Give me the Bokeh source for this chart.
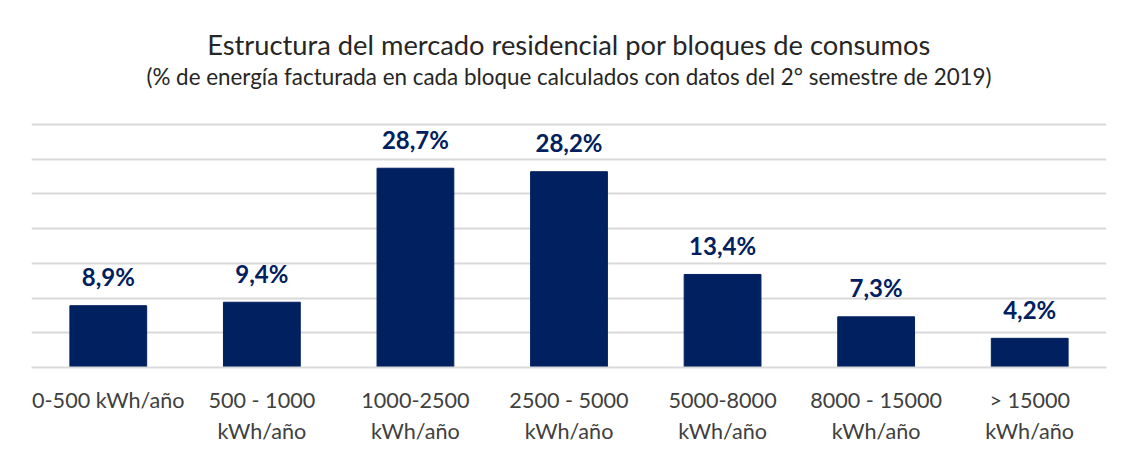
from bokeh.plotting import figure
from bokeh.models import FactorRange, ColumnDataSource
from bokeh.embed import file_html
from bokeh.resources import INLINE
from bokeh.core.properties import value

categories = ["0-500 kWh/año", "500 - 1000\nkWh/año", "1000-2500\nkWh/año", "2500 - 5000\nkWh/año",
              "5000-8000\nkWh/año", "8000 - 15000\nkWh/año", "> 15000\nkWh/año"]
shares = [8.9, 9.4, 28.7, 28.2, 13.4, 7.3, 4.2]
share_labels = ["8,9%", "9,4%", "28,7%", "28,2%", "13,4%", "7,3%", "4,2%"]
y_ticks = [0, 5, 10, 15, 20, 25, 30, 35]

title_text = "Estructura del mercado residencial por bloques de consumos"
subtitle_text = "(% de energía facturada en cada bloque calculados con datos del 2° semestre de 2019)"

NAVY = "#002060"
GRID = "#d9d9d9"
FONT = "Lato"

src = ColumnDataSource(dict(cat=categories, val=shares, lab=share_labels))

# y range extends above the 35% gridline so the titles sit inside the frame
p = figure(x_range=FactorRange(*categories, range_padding=0), y_range=(0, 51.85),
           frame_width=1075, frame_height=360, output_backend="svg", toolbar_location=None,
           min_border_left=31, min_border_right=10, min_border_top=7, min_border_bottom=60)
p.title.visible = False
p.outline_line_color = None

p.vbar(x="cat", top="val", width=0.5, source=src, fill_color=NAVY, line_color=NAVY)

p.text(x="cat", y="val", text="lab", source=src, y_offset=-29,
       text_align="center", text_baseline="alphabetic",
       text_font=value(FONT), text_font_style="bold",
       text_font_size="24px", text_color=NAVY)

mid = (categories[3], 0.0)
p.text(x=[mid], y=[46.5], text=[title_text], text_align="center",
       text_baseline="alphabetic", text_font=value(FONT),
       text_font_size="27.3px", text_color="#262626")
p.text(x=[mid], y=[41.9], text=[subtitle_text], text_align="center",
       text_baseline="alphabetic", text_font=value(FONT),
       text_font_size="22.4px", text_color="#262626")

p.yaxis.visible = False
p.ygrid.ticker = y_ticks
p.ygrid.grid_line_color = GRID
p.ygrid.grid_line_width = 2
p.xgrid.grid_line_color = None

p.xaxis.axis_line_color = GRID
p.xaxis.axis_line_width = 2
p.xaxis.major_tick_line_color = None
p.xaxis.minor_tick_line_color = None
p.xaxis.major_label_text_font = FONT
p.xaxis.major_label_text_font_size = "21.6px"
p.xaxis.major_label_text_color = "#404040"
p.xaxis.major_label_standoff = 13
p.xaxis.major_label_orientation = "horizontal"

open("out.html", "w").write(file_html(p, INLINE))
